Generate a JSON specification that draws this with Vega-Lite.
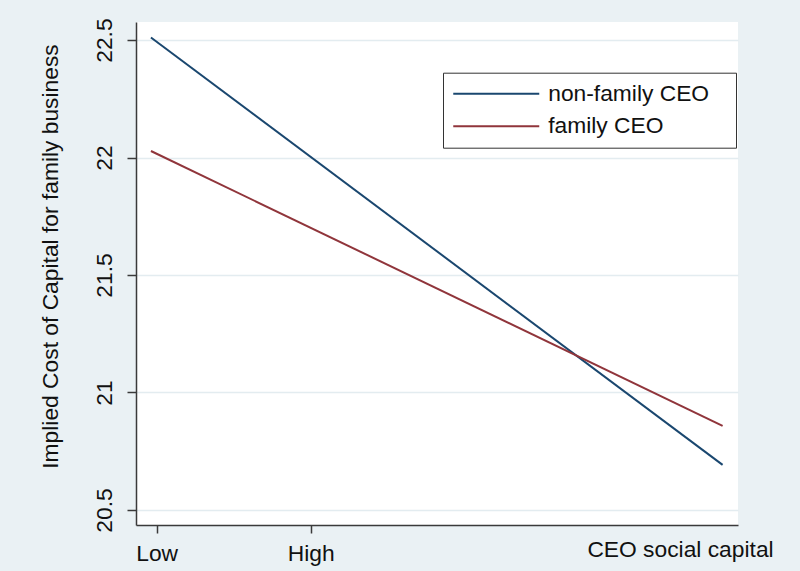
{
  "$schema": "https://vega.github.io/schema/vega-lite/v6.json",
  "width": 602,
  "height": 503,
  "autosize": {"type": "none"},
  "padding": {"left": 136, "top": 22, "right": 62, "bottom": 46},
  "background": "#eaf1f4",
  "config": {
    "view": {"fill": "white", "stroke": null},
    "font": "Liberation Sans"
  },
  "data": {
    "values": [
      {"capital": -0.037, "icc": 22.511, "ceo": "non-family CEO"},
      {"capital": 3.675, "icc": 20.692, "ceo": "non-family CEO"},
      {"capital": -0.037, "icc": 22.028, "ceo": "family CEO"},
      {"capital": 3.675, "icc": 20.858, "ceo": "family CEO"}
    ]
  },
  "mark": {"type": "line", "strokeWidth": 2},
  "encoding": {
    "x": {
      "field": "capital",
      "type": "quantitative",
      "scale": {"domain": [-0.134, 3.775], "nice": false, "zero": false},
      "axis": {
        "values": [0, 1],
        "labelExpr": "datum.value == 0 ? 'Low' : 'High'",
        "grid": false,
        "domainColor": "#3a3a3a",
        "domainWidth": 1.5,
        "tickColor": "#3a3a3a",
        "tickWidth": 1.5,
        "tickSize": 8,
        "labelFontSize": 22.8,
        "labelColor": "#111111",
        "labelPadding": 9.6,
        "labelFlush": false,
        "title": "CEO social capital",
        "titleFontSize": 22.8,
        "titleFontWeight": "normal",
        "titleColor": "#111111",
        "titleX": 544,
        "titleY": 31,
        "titleAlign": "center",
        "titleBaseline": "alphabetic"
      }
    },
    "y": {
      "field": "icc",
      "type": "quantitative",
      "scale": {"domain": [20.436, 22.577], "nice": false, "zero": false},
      "axis": {
        "values": [20.5, 21, 21.5, 22, 22.5],
        "format": "~g",
        "grid": true,
        "gridColor": "#e3ecf0",
        "gridWidth": 1.5,
        "domainColor": "#3a3a3a",
        "domainWidth": 1.5,
        "tickColor": "#3a3a3a",
        "tickWidth": 1.5,
        "tickSize": 9,
        "labelAngle": 270,
        "labelAlign": "center",
        "labelBaseline": "alphabetic",
        "labelPadding": 15.5,
        "labelFontSize": 22.8,
        "labelColor": "#111111",
        "labelFlush": false,
        "labelOverlap": false,
        "title": "Implied Cost of Capital for family business",
        "titleFontSize": 22.8,
        "titleFontWeight": "normal",
        "titleColor": "#111111",
        "titleAngle": 270,
        "titleX": -78.7,
        "titleY": 234,
        "titleAlign": "center",
        "titleBaseline": "alphabetic"
      }
    },
    "color": {
      "field": "ceo",
      "type": "nominal",
      "scale": {
        "domain": ["non-family CEO", "family CEO"],
        "range": ["#1a476f", "#90353b"]
      },
      "legend": {
        "orient": "none",
        "legendX": 307,
        "legendY": 50.7,
        "title": null,
        "fillColor": "white",
        "strokeColor": "#333333",
        "padding": 9,
        "rowPadding": 8.5,
        "symbolType": "M-1,0H7",
        "symbolSize": 462.25,
        "symbolStrokeWidth": 2,
        "labelFontSize": 22.8,
        "labelColor": "#111111",
        "labelOffset": 72.2,
        "labelLimit": 400,
        "labelExpr": "datum.label + '\u2800'"
      }
    }
  }
}
